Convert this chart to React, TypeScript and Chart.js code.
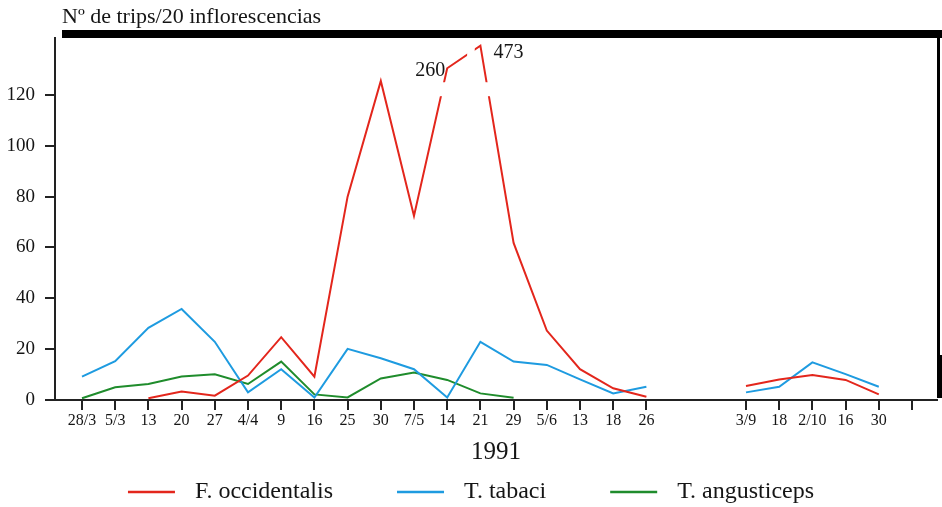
import React, { useEffect, useRef } from 'react';
import { Chart, registerables, LinearScale } from 'chart.js';

Chart.register(...registerables);

// ---- data ----
const dateLabels: (string | null)[] = [
  '28/3', '5/3', '13', '20', '27', '4/4', '9', '16', '25', '30', '7/5', '14', '21', '29',
  '5/6', '13', '18', '26', null, null, '3/9', '18', '2/10', '16', '30', '',
];
const fOccidentalis: (number | null)[] = [
  null, null, 0.7, 3.3, 1.7, 9.6, 24.7, 9.2, 80, 125.5, 72.4, 260, 473, 61.8,
  27.3, 12.1, 4.6, 1.3, null, null, 5.5, 8.1, 9.8, 7.9, 2.2, null,
];
const tTabaci: (number | null)[] = [
  9.2, 15.3, 28.4, 35.8, 22.9, 3.0, 12.1, 1.0, 20.1, 16.4, 12.1, 1.0, 22.9, 15.1,
  13.8, 8.1, 2.6, 5.2, null, null, 3.0, 5.2, 14.8, 10.2, 5.2, null,
];
const tAngusticeps: (number | null)[] = [
  0.7, 5.0, 6.3, 9.2, 10.1, 6.3, 15.1, 2.2, 1.0, 8.5, 10.8, 7.9, 2.6, 0.9,
  null, null, null, null, null, null, null, null, null, null, null, null,
];
const yTickValues = [0, 20, 40, 60, 80, 100, 120];
const seriesNames = ['F. occidentalis', 'T. tabaci', 'T. angusticeps'];
const seriesColors = ['#e3261c', '#1e9be0', '#1f8c2c'];
const xTitle = '1991';
const yTitle = 'Nº de trips/20 inflorescencias';

// ---- broken y axis (values above the break are drawn on a compressed segment) ----
const BREAK_AT = 130;
const UPPER_FROM = 200;
const UPPER_TO = 500;
const UPPER_DISPLAY_FROM = 128;
const UPPER_DISPLAY_TO = 140.5;
function compress(v: any) {
  if (v === null || v === undefined || v <= BREAK_AT) return v;
  return UPPER_DISPLAY_FROM + ((v - UPPER_FROM) / (UPPER_TO - UPPER_FROM)) * (UPPER_DISPLAY_TO - UPPER_DISPLAY_FROM);
}

class BrokenLinearScale extends (LinearScale as any) {
  static id = 'brokenLinear';
  static defaults = {};
  getPixelForValue(value: any) {
    return super.getPixelForValue(compress(value));
  }
}
Chart.register(BrokenLinearScale as any);

const SERIF = "'Liberation Serif', 'DejaVu Serif', serif";
const INK = '#151515';

const breakPlugin = {
  id: 'breakMarks',
  afterDatasetsDraw(chart: any) {
    const { ctx, scales } = chart;
    const xs = scales.x;
    const ys = scales.y;
    ctx.save();
    ctx.fillStyle = '#ffffff';
    // horizontal break band across the rising / falling lines
    const bx1 = xs.getPixelForValue(10.5);
    const bx2 = xs.getPixelForValue(13.5);
    const by1 = ys.getPixelForValue(125);
    const by2 = ys.getPixelForValue(119.5);
    ctx.fillRect(bx1, by1, bx2 - bx1, by2 - by1);
    // small gap in the segment between the two off-scale values (upper segment values)
    const gx1 = xs.getPixelForValue(11.6);
    const gx2 = xs.getPixelForValue(11.83);
    const gy1 = ys.getPixelForValue(480);
    const gy2 = ys.getPixelForValue(300);
    ctx.fillRect(gx1, gy1, gx2 - gx1, gy2 - gy1);

    // value labels for off-scale points
    const meta = chart.getDatasetMeta(0);
    ctx.fillStyle = INK;
    ctx.font = `20px ${SERIF}`;
    ctx.textBaseline = 'middle';
    fOccidentalis.forEach((v, i) => {
      if (v === null || v <= BREAK_AT) return;
      const pt = meta.data[i];
      const next = fOccidentalis[i + 1];
      if (next !== null && next !== undefined && next > v) {
        ctx.textAlign = 'right';
        ctx.fillText(String(v), pt.x - 2, pt.y + 2);
      } else {
        ctx.textAlign = 'left';
        ctx.fillText(String(v), pt.x + 13, pt.y + 7);
      }
    });
    ctx.restore();
  },
};

const framePlugin = {
  id: 'frameAndLegend',
  afterDraw(chart: any) {
    const { ctx, chartArea, width } = chart;
    ctx.save();
    // top heavy bar
    ctx.fillStyle = '#000';
    ctx.fillRect(62, chartArea.top - 8, width - 62, 8);
    // right border
    ctx.fillRect(chartArea.right, chartArea.top - 8, 3, chartArea.bottom - chartArea.top + 6);
    ctx.fillRect(chartArea.right, chartArea.bottom - 45, 5, 43);

    // y title
    ctx.fillStyle = INK;
    ctx.font = `22px ${SERIF}`;
    ctx.textAlign = 'left';
    ctx.textBaseline = 'middle';
    ctx.fillText(yTitle, 62, 17);

    // legend
    ctx.font = `24px ${SERIF}`;
    const lineLen = 47;
    const gapText = 20;
    const gapItem = 64;
    const widths = seriesNames.map((n) => ctx.measureText(n).width);
    const total = widths.reduce((a, w) => a + lineLen + gapText + w, 0) + gapItem * (seriesNames.length - 1);
    let x = width / 2 - total / 2;
    const y = 492;
    seriesNames.forEach((name, i) => {
      ctx.strokeStyle = seriesColors[i];
      ctx.lineWidth = 2.5;
      ctx.beginPath();
      ctx.moveTo(x, y);
      ctx.lineTo(x + lineLen, y);
      ctx.stroke();
      x += lineLen + gapText;
      ctx.fillStyle = INK;
      ctx.fillText(name, x, y);
      x += widths[i] + gapItem;
    });
    ctx.restore();
  },
};

export default function App() {
  const ref = useRef<HTMLCanvasElement>(null);
  useEffect(() => {
    if (!ref.current) return;
    const series = [fOccidentalis, tTabaci, tAngusticeps];
    const chart = new Chart(ref.current, {
      type: 'line',
      data: {
        datasets: series.map((arr, si) => ({
          label: seriesNames[si],
          data: arr.map((y, i) => ({ x: i, y })),
          borderColor: seriesColors[si],
          backgroundColor: seriesColors[si],
          borderWidth: 2,
          pointRadius: 0,
          tension: 0,
          spanGaps: false,
        })),
      },
      options: {
        animation: false,
        responsive: false,
        layout: { padding: { left: 0, right: 5, top: 38, bottom: 0 } },
        plugins: {
          legend: { display: false },
          title: { display: false },
          tooltip: { enabled: false },
        },
        scales: {
          x: {
            type: 'linear',
            min: -0.813,
            max: 25.753,
            afterBuildTicks: (s: any) => {
              s.ticks = dateLabels
                .map((l, i) => (l === null ? null : { value: i }))
                .filter((t) => t !== null);
            },
            afterFit: (s: any) => {
              s.height = 107;
            },
            ticks: {
              autoSkip: false,
              maxRotation: 0,
              minRotation: 0,
              padding: 1,
              color: INK,
              font: { family: SERIF, size: 16 },
              callback: (v: any) => dateLabels[v] ?? '',
            },
            grid: { drawOnChartArea: false, drawTicks: true, tickLength: 10, color: '#222', lineWidth: 2 },
            border: { display: true, color: '#222', width: 2 },
            title: {
              display: true,
              text: xTitle,
              color: INK,
              font: { family: SERIF, size: 25 },
              padding: { top: 0, bottom: 40 },
            },
          },
          y: {
            type: 'brokenLinear' as any,
            min: 0,
            max: 142.4,
            afterBuildTicks: (s: any) => {
              s.ticks = yTickValues.map((v) => ({ value: v }));
            },
            afterFit: (s: any) => {
              s.width = 55;
            },
            ticks: {
              padding: 10,
              color: INK,
              font: { family: SERIF, size: 19 },
              callback: (v: any) => String(v),
            },
            grid: { drawOnChartArea: false, drawTicks: true, tickLength: 10, color: '#222', lineWidth: 2 },
            border: { display: true, color: '#222', width: 2 },
          },
        },
      } as any,
      plugins: [breakPlugin, framePlugin],
    });
    return () => chart.destroy();
  }, []);
  return (
    <div style={{ position: 'fixed', left: 0, top: 0, width: 942, height: 507, background: '#fff' }}>
      <canvas ref={ref} width={942} height={507} style={{ display: 'block' }} />
    </div>
  );
}
